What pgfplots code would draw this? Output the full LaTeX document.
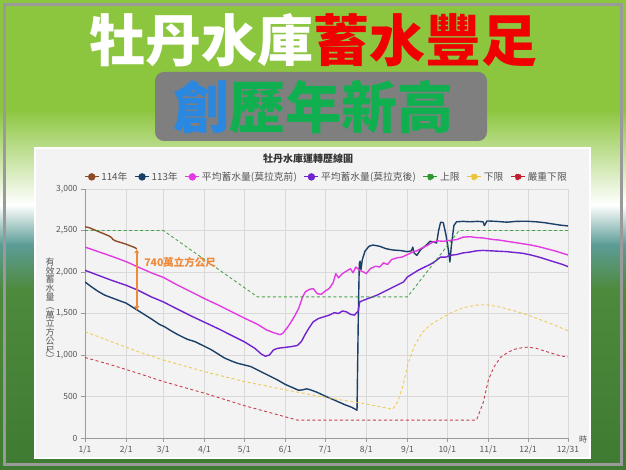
\documentclass[border=0pt]{standalone}
\usepackage{pgfplots}
\pgfplotsset{compat=1.18}
\usepackage{fontspec}
\setmainfont{Noto Sans CJK TC}
\usetikzlibrary{arrows.meta}

\definecolor{bggreen}{HTML}{8CC63F}
\definecolor{bgteal}{HTML}{5C9C96}
\definecolor{bgdark}{HTML}{4E8A3C}
\definecolor{bgdarker}{HTML}{3F7A32}
\definecolor{framegray}{HTML}{9A9A9A}
\definecolor{boxgray}{HTML}{7F7F7F}
\definecolor{titlered}{HTML}{F00000}
\definecolor{titlegreen}{HTML}{10B050}
\definecolor{chuang}{HTML}{2A88E0}
\definecolor{panel}{HTML}{F3F3F3}
\definecolor{gridgray}{HTML}{D9D9D9}
\definecolor{axisgray}{HTML}{9A9A9A}
\definecolor{tickgray}{HTML}{555555}
\definecolor{annot}{HTML}{EE8A3A}
\definecolor{c114}{HTML}{8E4A26}
\definecolor{c113}{HTML}{1B3F66}
\definecolor{cpink}{HTML}{E23BE2}
\definecolor{cpurple}{HTML}{7322D0}
\definecolor{cgreen}{HTML}{2E962E}
\definecolor{cyellow}{HTML}{EBC43A}
\definecolor{cred}{HTML}{C0202E}

\begin{document}
\begin{tikzpicture}
\begin{scope}[x=1pt,y=1pt]
  \useasboundingbox (0,0) rectangle (626,470);
  % background
  \fill[bggreen] (0,360) rectangle (626,470);
  \shade[top color=bggreen, bottom color=white] (0,265) rectangle (626,360.2);
  \shade[top color=white, bottom color=bgteal] (0,225) rectangle (626,265.2);
  \shade[top color=bgteal, bottom color=bgdark] (0,180) rectangle (626,225.2);
  \shade[top color=bgdark, bottom color=bgdarker] (0,0) rectangle (626,180.2);
  \draw[framegray, line width=3pt] (4.5,5.5) rectangle (621.5,465.5);
  % big titles
  \node[font=\fontsize{56}{60}\selectfont\bfseries] at (313,430)
    {\textcolor{white}{牡丹水庫}\textcolor{titlered}{蓄水豐足}};
  \fill[boxgray, rounded corners=9pt] (155,398) rectangle (487,329);
  \node[font=\fontsize{56}{60}\selectfont\bfseries] at (313,363)
    {\textcolor{chuang}{創}\textcolor{titlegreen}{歷年新高}};
  % chart panel
  \filldraw[fill=panel, draw=white, line width=1.5pt] (35,12) rectangle (590,322);
  \node[font=\fontsize{10}{11}\selectfont\bfseries, text=black!80] at (308,311) {牡丹水庫運轉歷線圖};
  \node[align=center, font=\fontsize{9}{8.8}\selectfont, text=tickgray] at (50,160)
    {有\\效\\蓄\\水\\量\\︵\\萬\\立\\方\\公\\尺\\︶};
  \node[font=\fontsize{8}{9}\selectfont, text=tickgray] at (583,31) {時};
\end{scope}

\begin{axis}[
  at={(85pt,32pt)}, anchor=south west,
  scale only axis, width=483pt, height=249pt,
  xmin=0, xmax=364, ymin=0, ymax=3000,
  xtick={0,31,59,90,120,151,181,212,243,273,304,334,364},
  xticklabels={1/1,2/1,3/1,4/1,5/1,6/1,7/1,8/1,9/1,10/1,11/1,12/1,12/31},
  ytick={0,500,...,3000},
  yticklabel style={/pgf/number format/1000 sep={,}},
  /pgf/number format/assume math mode=true,
  grid=major, major grid style={draw=gridgray, line width=0.6pt},
  axis lines=left, axis line style={-, draw=axisgray, line width=0.8pt},
  tick style={draw=axisgray, line width=0.6pt}, tick align=outside, major tick length=4pt,
  ticklabel style={font=\fontsize{8.5}{9}\selectfont, text=tickgray},
  legend style={at={(0.5,1)}, anchor=south, yshift=3pt, draw=none, fill=none,
    legend columns=-1, font=\fontsize{9.8}{10.5}\selectfont, text=tickgray,
    /tikz/every even column/.append style={column sep=5pt}},
  legend image code/.code={\draw[#1, solid, opacity=1, line width=1.2pt] (0pt,0pt) -- (14pt,0pt);
    \fill[#1, opacity=1] (7pt,0pt) circle (3pt);},
  solid line/.style={line width=1.4pt, line join=round},
  dash line/.style={line width=0.9pt, dash pattern=on 3pt off 2.5pt, opacity=0.85},
]
% 114年
\addplot[c114, solid line] coordinates {
(0,2545)(3,2535)(6,2515)(9,2495)(12,2475)(15,2455)(18,2435)(20,2415)(21,2392)(23,2375)
(27,2355)(31,2335)(35,2310)(37,2298)(39,2280)};
% 113年
\addplot[c113, solid line] coordinates {
(0,1880)(5,1820)(10,1765)(15,1720)(20,1690)(25,1660)(31,1625)(35,1585)(40,1535)(45,1485)
(50,1435)(56,1370)(60,1340)(65,1290)(70,1245)(77,1190)(83,1160)(90,1105)(95,1065)(100,1015)
(105,965)(110,930)(115,900)(120,880)(125,860)(130,820)(135,780)(140,740)(145,700)(151,645)
(156,610)(161,575)(164,580)(167,592)(170,580)(175,550)(181,505)(186,470)(191,435)(196,400)
(201,370)(205,335)(206,1500)(206.7,2100)(207.3,2130)(208,2030)(209,2150)(211,2250)(214,2310)
(217,2325)(222,2310)(227,2280)(232,2265)(238,2258)(243,2245)(246,2255)(247,2300)(248,2230)
(250,2200)(253,2270)(257,2320)(260,2370)(263,2360)(265,2350)(266.5,2500)(268,2600)(270,2595)
(272,2450)(274,2250)(275,2120)(276,2300)(278,2560)(280,2605)(285,2610)(290,2605)(296,2610)
(300,2605)(301,2560)(303,2615)(310,2610)(318,2600)(325,2610)(332,2612)(340,2605)(346,2595)
(352,2580)(358,2565)(364,2555)};
% 平均蓄水量(莫拉克前)
\addplot[cpink, solid line] coordinates {
(0,2300)(10,2245)(20,2190)(31,2125)(40,2060)(50,1990)(59,1935)(70,1840)(80,1760)(90,1680)
(100,1605)(110,1525)(120,1445)(130,1370)(137,1300)(142,1270)(147,1245)(149,1260)(152,1320)
(155,1390)(158,1470)(161,1560)(164,1700)(166,1760)(169,1790)(172,1800)(175,1740)(178,1730)
(181,1770)(184,1800)(187,1870)(189,1980)(191,1930)(194,1980)(197,2010)(200,2040)(202,1990)
(204,2060)(207,2020)(210,2000)(212,1980)(215,2040)(219,2070)(222,2060)(225,2110)(228,2090)
(231,2150)(235,2170)(239,2180)(243,2210)(247,2240)(250,2255)(254,2290)(258,2320)(262,2360)
(266,2375)(270,2370)(275,2380)(280,2390)(285,2420)(290,2425)(295,2415)(300,2410)(304,2400)
(308,2390)(312,2385)(318,2370)(324,2355)(330,2340)(336,2325)(342,2305)(348,2280)(354,2255)
(360,2225)(364,2205)};
% 平均蓄水量(莫拉克後)
\addplot[cpurple, solid line] coordinates {
(0,2020)(10,1960)(20,1900)(31,1840)(40,1780)(50,1700)(59,1640)(70,1550)(80,1470)(90,1395)
(100,1320)(110,1240)(120,1160)(128,1080)(133,1010)(136,985)(139,1000)(142,1060)(145,1080)
(150,1090)(155,1100)(160,1115)(163,1160)(166,1250)(169,1330)(172,1400)(176,1440)(180,1460)
(184,1480)(188,1510)(191,1500)(194,1530)(197,1520)(200,1490)(203,1480)(206,1530)(207,1640)
(210,1660)(215,1690)(220,1720)(225,1760)(230,1800)(235,1840)(240,1880)(243,1940)(247,1980)
(251,2020)(256,2060)(260,2090)(264,2130)(268,2180)(272,2180)(275,2200)(280,2210)(285,2230)
(290,2240)(295,2255)(300,2260)(306,2255)(312,2250)(318,2245)(324,2235)(330,2225)(336,2205)
(342,2180)(348,2150)(354,2120)(360,2090)(364,2065)};
% 上限
\addplot[cgreen, dash line] coordinates {
(0,2500)(59,2500)(130,1700)(243,1700)(282,2500)(364,2500)};
% 下限
\addplot[cyellow, dash line] coordinates {
(0,1280)(20,1160)(40,1040)(59,940)(90,800)(120,680)(151,580)(181,490)(212,410)(232,345)
(236,450)(240,650)(243,870)(248,1100)(254,1270)(260,1360)(268,1440)(276,1510)(285,1570)
(295,1600)(303,1605)(312,1580)(324,1530)(334,1480)(344,1420)(354,1360)(364,1290)};
% 嚴重下限
\addplot[cred, dash line] coordinates {
(0,970)(20,880)(40,780)(59,680)(90,540)(120,390)(151,255)(160,215)(295,215)(300,420)
(304,700)(308,850)(313,970)(319,1035)(324,1070)(330,1090)(334,1095)(340,1080)(346,1050)
(352,1020)(358,990)(364,975)};
\legend{114年,113年,平均蓄水量(莫拉克前),平均蓄水量(莫拉克後),上限,下限,嚴重下限}
% annotation
\draw[annot, line width=1.5pt, {Triangle[length=4pt,width=4.5pt]}-{Triangle[length=4pt,width=4.5pt]}]
  (axis cs:39,2275) -- (axis cs:39,1540);
\node[anchor=west, text=annot, font=\fontsize{10.5}{11}\selectfont\bfseries] at (axis cs:42,2120) {740萬立方公尺};
\end{axis}
\end{tikzpicture}
\end{document}
